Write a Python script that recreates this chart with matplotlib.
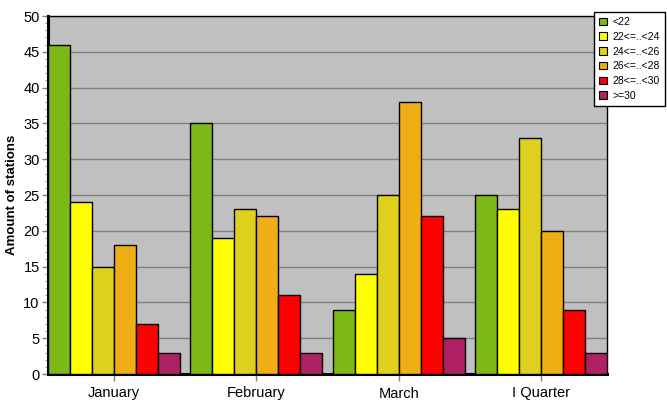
import matplotlib
matplotlib.use("Agg")
import matplotlib.pyplot as plt
import numpy as np
from matplotlib.patches import Patch

plt.rcParams['font.family'] = ['Liberation Sans', 'DejaVu Sans']

# data
months = ['January', 'February', 'March', 'I Quarter']
ranges = ['<22', '22<=..<24', '24<=..<26', '26<=..<28', '28<=..<30', '>=30']
values = {
    '<22':       [46, 35, 9, 25],
    '22<=..<24': [24, 19, 14, 23],
    '24<=..<26': [15, 23, 25, 33],
    '26<=..<28': [18, 22, 38, 20],
    '28<=..<30': [7, 11, 22, 9],
    '>=30':      [3, 3, 5, 3],
}
colors = ['#7DB819', '#FFFF00', '#E0D01E', '#F0AE15', '#FF0000', '#AE2263']

fig = plt.figure(figsize=(6.67, 4.15), dpi=100)
ax = fig.add_axes([48 / 667, 1 - 374 / 415, 559 / 667, 358 / 415])
ax.set_facecolor('#C0C0C0')

slot = 142.0
w = 22.0 / slot
x = np.arange(len(months))
for j, r in enumerate(ranges):
    ax.bar(x + (j - 2.5) * w, values[r], width=w, color=colors[j],
           edgecolor='black', linewidth=1, zorder=3)

ax.set_xlim(-66 / slot, len(months) - 1 + 66 / slot)
ax.set_ylim(0, 50)
ax.set_yticks(np.arange(0, 51, 5))
ax.set_yticks(np.arange(0, 51, 1), minor=True)
ax.set_xticks(x)
ax.set_xticklabels(months, fontsize=10.5)
ax.tick_params(axis='y', labelsize=10.5, length=4, width=1, color='#808080', pad=2)
ax.tick_params(axis='y', which='minor', length=2, color='#808080')
ax.tick_params(axis='x', length=5, width=1, color='#808080', pad=4)
ax.yaxis.grid(True, color='#808080', linewidth=1, zorder=0)
ax.set_axisbelow(True)

for s in ['top', 'right']:
    ax.spines[s].set_linewidth(1)
for s in ['left', 'bottom']:
    ax.spines[s].set_linewidth(2.2)

ax.set_ylabel('Amount of stations', fontsize=9.5, fontweight='bold', labelpad=4)

handles = [Patch(facecolor=c, edgecolor='black', linewidth=0.8) for c in colors]
leg = fig.legend(handles, ranges, loc='upper left',
                 bbox_to_anchor=(594 / 667, 1 - 12 / 415),
                 fontsize=7.5, frameon=True, fancybox=False,
                 handlelength=0.75, handleheight=0.75, handletextpad=0.55,
                 labelspacing=0.45, borderpad=0.5, borderaxespad=0)
leg.get_frame().set_edgecolor('black')
leg.get_frame().set_linewidth(1)
leg.get_frame().set_facecolor('white')
leg.get_frame().set_alpha(1)

fig.savefig('out.png', dpi=100)
